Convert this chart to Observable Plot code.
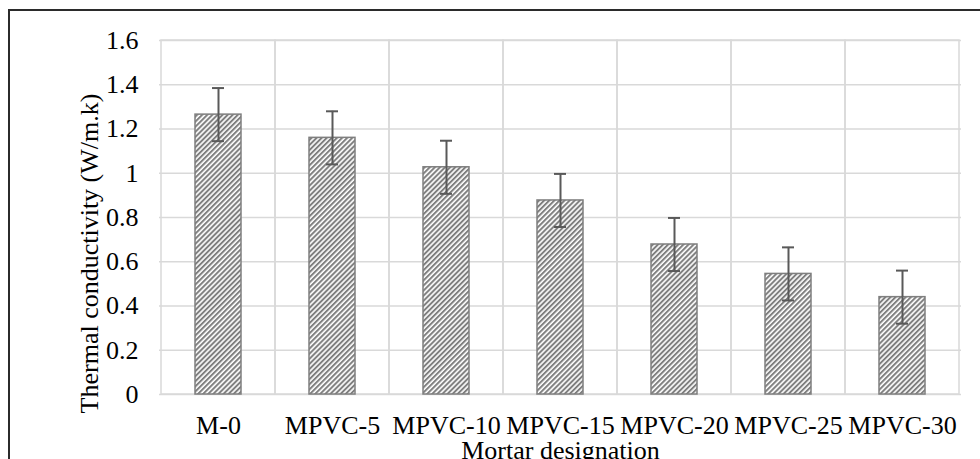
<!DOCTYPE html>
<html>
<head>
<meta charset="utf-8">
<script src="https://cdn.jsdelivr.net/npm/d3@7"></script>
<script src="https://cdn.jsdelivr.net/npm/@observablehq/plot@0.6"></script>
<style>
  html, body { margin: 0; padding: 0; background: #fff; }
  #wrap { position: relative; width: 980px; height: 459px; overflow: hidden; }
  #wrap svg { position: absolute; left: 0; top: 0; }
  #border { position: absolute; left: 8px; top: 9px; width: 1000px; height: 520px; border: 2px solid #2b2b2b; box-sizing: border-box; pointer-events: none; }
</style>
</head>
<body>
<div id="wrap"><div id="chart"></div><div id="border"></div></div>
<script>
const categories = ["M-0", "MPVC-5", "MPVC-10", "MPVC-15", "MPVC-20", "MPVC-25", "MPVC-30"];
const values = [1.265, 1.16, 1.027, 0.877, 0.678, 0.545, 0.44];
const errors = [0.12, 0.12, 0.12, 0.12, 0.12, 0.12, 0.12];
const yTicks = [0, 0.2, 0.4, 0.6, 0.8, 1, 1.2, 1.4, 1.6];
const yTitle = "Thermal conductivity (W/m.k)";
const xTitle = "Mortar designation";

const data = categories.map((c, i) => ({cat: c, v: values[i], e: errors[i]}));
const FS = 26;

const plot = Plot.plot({
  width: 980,
  height: 459,
  marginLeft: 159,
  marginRight: 19,
  marginTop: 40,
  marginBottom: 65,
  style: {fontFamily: "'Liberation Serif', 'Times New Roman', serif", fontSize: "26px", color: "#000", background: "white"},
  x: {type: "band", domain: categories, padding: 0},
  y: {domain: [0, 1.6]},
  marks: [
    Plot.gridY(yTicks, {stroke: "#d9d9d9", strokeOpacity: 1, strokeWidth: 1.5}),
    Plot.cell(categories, {x: d => d, fill: "none", stroke: "#d9d9d9", strokeWidth: 1.5}),
    Plot.barY(data, {x: "cat", y: "v", fill: "url(#hatch)", stroke: "#7f7f7f", strokeWidth: 1.5, insetLeft: 34, insetRight: 34}),
    Plot.ruleX(data, {x: "cat", y1: d => d.v - d.e, y2: d => d.v + d.e, stroke: "#595959", strokeWidth: 2}),
    Plot.tickY(data, {x: "cat", y: d => d.v + d.e, stroke: "#595959", strokeWidth: 2, insetLeft: 51, insetRight: 51}),
    Plot.tickY(data, {x: "cat", y: d => d.v - d.e, stroke: "#595959", strokeWidth: 2, insetLeft: 51, insetRight: 51}),
    Plot.axisY(yTicks, {tickSize: 0, tickPadding: 21, tickFormat: d => String(d), label: null, fill: "#000", fontSize: FS}),
    Plot.axisX({tickSize: 0, tickPadding: 21, label: null, fill: "#000", fontSize: FS}),
    Plot.text([xTitle], {frameAnchor: "bottom", lineAnchor: "middle", textAnchor: "middle", dy: 56, fill: "#000", fontSize: FS}),
    Plot.text([yTitle], {frameAnchor: "left", textAnchor: "middle", lineAnchor: "middle", rotate: -90, dx: -70, dy: 36, fill: "#000", fontSize: FS})
  ]
});

plot.insertAdjacentHTML("afterbegin",
  '<defs><pattern id="hatch" patternUnits="userSpaceOnUse" width="3.6" height="3.6" patternTransform="rotate(45)">' +
  '<rect width="3.6" height="3.6" fill="#ffffff"/>' +
  '<rect width="2" height="3.6" fill="#7f7f7f"/></pattern></defs>');

document.getElementById("chart").appendChild(plot);
</script>
</body>
</html>
